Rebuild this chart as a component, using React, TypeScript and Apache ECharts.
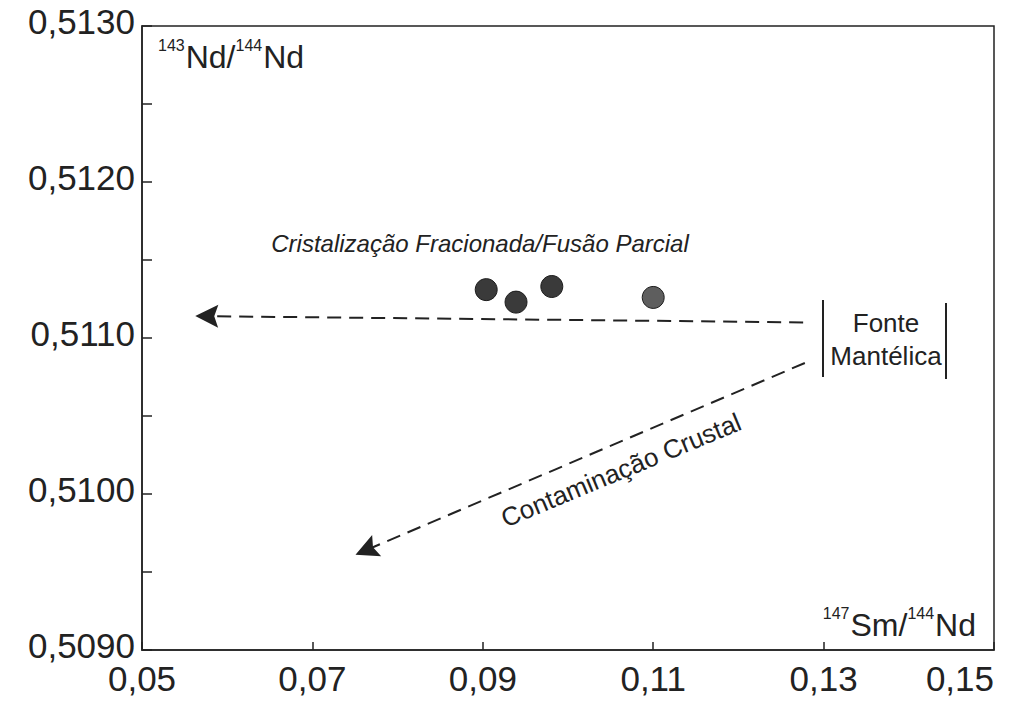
import React, { useEffect, useRef } from "react";
import * as echarts from "echarts";

// Axis ranges
const xMin = 0.05;
const xMax = 0.15;
const xStep = 0.02;
const yMin = 0.509;
const yMax = 0.513;
const yStep = 0.001;

// Samples: 147Sm/144Nd vs 143Nd/144Nd
const sampleX = [0.0904, 0.0939, 0.0981, 0.11];
const sampleY = [0.51131, 0.51123, 0.51133, 0.51126];

// Trend arrows (start -> tip)
const arrowNames = ["Cristalização Fracionada/Fusão Parcial", "Contaminação Crustal"];
const arrowFrom = [
  [0.1276, 0.5111],
  [0.1278, 0.51084],
];
const arrowTo = [
  [0.0576, 0.51114],
  [0.0763, 0.50964],
];

const FONT = '"Liberation Sans", Arial, sans-serif';
const INK = "#222";
const ARROW = "path://M0,-12 L11,11 L0,7 L-11,11 Z";

export default function App() {
  const ref = useRef<HTMLDivElement>(null);
  useEffect(() => {
    document.body.style.margin = "0";
    const chart = echarts.init(ref.current!, null, { renderer: "svg" });
    const supStyle = { fontSize: 16, lineHeight: 16, verticalAlign: "top", fontFamily: FONT, fill: INK, padding: [0, 1, 0, 0] };
    const bigStyle = { fontSize: 32, lineHeight: 40, fontFamily: FONT, fill: INK };
    const option: any = {
      animation: false,
      backgroundColor: "#fff",
      grid: {
        show: true,
        left: 142,
        right: 41,
        top: 26,
        bottom: 59,
        borderColor: INK,
        borderWidth: 1.5,
      },
      xAxis: {
        type: "value",
        min: xMin,
        max: xMax,
        interval: xStep,
        axisLine: { lineStyle: { color: INK, width: 1.5 } },
        axisTick: { inside: true, length: 8, lineStyle: { color: INK, width: 1.5 } },
        axisLabel: {
          formatter: (v: number) => v.toFixed(2).replace(".", ","),
          fontSize: 35,
          lineHeight: 28,
          color: INK,
          fontFamily: FONT,
          margin: 14,
          alignMaxLabel: "right",
        },
        splitLine: { show: false },
      },
      yAxis: {
        type: "value",
        min: yMin,
        max: yMax,
        interval: yStep,
        axisLine: { lineStyle: { color: INK, width: 1.5 } },
        axisTick: { inside: true, length: 10, lineStyle: { color: INK, width: 1.5 } },
        minorTick: { show: true, splitNumber: 2, length: 10, lineStyle: { color: INK, width: 1.5 } },
        axisLabel: {
          formatter: (v: number) => v.toFixed(4).replace(".", ","),
          fontSize: 35,
          lineHeight: 10,
          verticalAlign: "bottom",
          color: INK,
          fontFamily: FONT,
          margin: 7,
        },
        splitLine: { show: false },
      },
      series: [
        {
          type: "lines",
          coordinateSystem: "cartesian2d",
          data: arrowNames.map((name, i) => ({ name, coords: [arrowFrom[i], arrowTo[i]] })),
          lineStyle: { color: INK, width: 2, type: [14, 8], opacity: 1 },
          symbol: ["none", ARROW],
          symbolSize: 23,
          silent: true,
        },
        {
          type: "scatter",
          data: sampleX.map((x, i) => [x, sampleY[i]]),
          symbolSize: 22,
          itemStyle: {
            color: (p: any) => (p.dataIndex === 3 ? "#5e5e5e" : "#3a3a3a"),
            borderColor: "#1c1c1c",
            borderWidth: 1,
            opacity: 1,
          },
          z: 5,
        },
      ],
      graphic: [
        {
          type: "text",
          x: 158,
          y: 37,
          style: {
            text: "{s|143}{n|Nd/}{s|144}{n|Nd}",
            fill: INK,
            align: "left",
            verticalAlign: "top",
            rich: { s: supStyle, n: bigStyle },
          },
        },
        {
          type: "text",
          x: 976,
          y: 605,
          style: {
            text: "{s|147}{n|Sm/}{s|144}{n|Nd}",
            fill: INK,
            align: "right",
            verticalAlign: "top",
            rich: { s: supStyle, n: bigStyle },
          },
        },
        {
          type: "text",
          x: 480,
          y: 243,
          style: {
            text: "Cristalização Fracionada/Fusão Parcial",
            fontSize: 24,
            fontStyle: "italic",
            fontFamily: FONT,
            fill: INK,
            align: "center",
            verticalAlign: "middle",
          },
        },
        {
          type: "text",
          x: 621,
          y: 470,
          rotation: 0.394,
          style: {
            text: "Contaminação Crustal",
            fontSize: 26,
            fontFamily: FONT,
            fill: INK,
            align: "center",
            verticalAlign: "middle",
          },
        },
        {
          type: "text",
          x: 886,
          y: 323,
          style: { text: "Fonte", fontSize: 26, fontFamily: FONT, fill: INK, align: "center", verticalAlign: "middle" },
        },
        {
          type: "text",
          x: 886,
          y: 356,
          style: { text: "Mantélica", fontSize: 26, fontFamily: FONT, fill: INK, align: "center", verticalAlign: "middle" },
        },
        {
          type: "line",
          shape: { x1: 823, y1: 300, x2: 823, y2: 377 },
          style: { stroke: INK, lineWidth: 2 },
        },
        {
          type: "line",
          shape: { x1: 946, y1: 303, x2: 946, y2: 379 },
          style: { stroke: INK, lineWidth: 2 },
        },
      ],
    };
    chart.setOption(option);
    return () => chart.dispose();
  }, []);
  return (
    <div
      ref={ref}
      style={{ position: "absolute", left: 0, top: 0, width: 1035, height: 709 }}
    />
  );
}
